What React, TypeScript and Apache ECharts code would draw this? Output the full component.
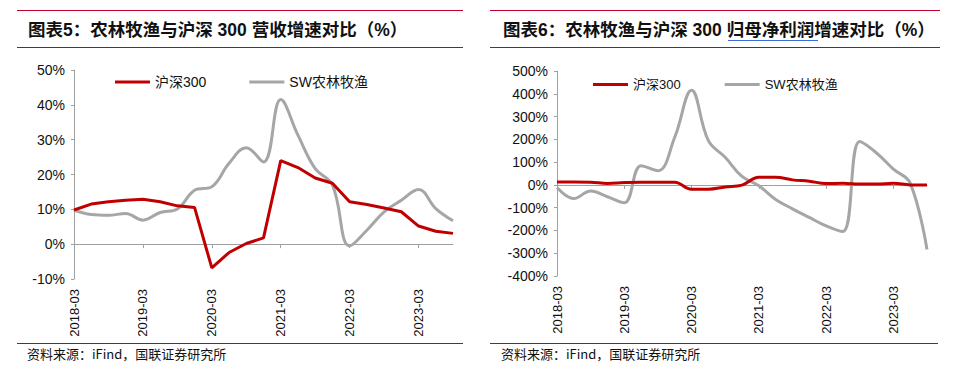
import React, { useEffect, useRef } from "react";
import * as echarts from "echarts";

const quarters: string[] = [
  "2018-03", "2018-06", "2018-09", "2018-12",
  "2019-03", "2019-06", "2019-09", "2019-12",
  "2020-03", "2020-06", "2020-09", "2020-12",
  "2021-03", "2021-06", "2021-09", "2021-12",
  "2022-03", "2022-06", "2022-09", "2022-12",
  "2023-03", "2023-06", "2023-09",
];

const seriesNames: string[] = ["沪深300", "SW农林牧渔"];

// 图表5：营收增速 (%)
const hs300Revenue: number[] = [9.8, 11.5, 12.2, 12.6, 12.9, 12.2, 11.0, 10.5, -6.8, -2.4, 0.2, 1.8, 24.0, 22.0, 19.0, 17.5, 12.2, 11.4, 10.4, 9.3, 5.2, 3.7, 3.1];
const swRevenue: number[] = [9.8, 8.5, 8.3, 8.8, 6.9, 9.1, 10.1, 15.5, 16.5, 23.2, 27.7, 23.6, 41.5, 31.3, 21.7, 17.0, -0.5, 4.0, 9.3, 12.6, 15.7, 10.2, 6.7];

// 图表6：归母净利润增速 (%)
const hs300Profit: number[] = [13, 13, 12, 6, 10, 12, 12, 12, -19, -19, -9, -1, 34, 34, 22, 16, 6, 7, 4, 4, 7, 0, -1];
const swProfit: number[] = [-12, -60, -27, -52, -78, 84, 62, 209, 415, 194, 121, 37, -4, -64, -105, -143, -180, -205, 190, 140, 69, 8, -284];

const leftTitle = "图表5：农林牧渔与沪深 300 营收增速对比（%）";
const rightTitle = "图表6：农林牧渔与沪深 300 归母净利润增速对比（%）";
const sourceText = "资料来源：iFind，国联证券研究所";

const RED = "#c00000";
const GRAY = "#a6a6a6";
const RULE = "#c0002c";
const AXIS = "#a0a0a0";
const FONT = "'Liberation Sans', Arial, 'Noto Sans CJK SC', sans-serif";

export default function App() {
  const ref = useRef<HTMLDivElement>(null);

  useEffect(() => {
    if (!ref.current) return;
    const chart = echarts.init(ref.current, undefined, { renderer: "svg" });

    const xAxisPair = (gridIndex: number, labelSize: number) => [
      {
        type: "category",
        gridIndex,
        data: quarters,
        boundaryGap: false,
        position: "bottom",
        axisLine: { onZero: true, lineStyle: { color: AXIS, width: 1 } },
        axisTick: { show: true, interval: 3, length: 4, lineStyle: { color: AXIS } },
        axisLabel: { show: false },
        splitLine: { show: false },
      },
      {
        type: "category",
        gridIndex,
        data: quarters,
        boundaryGap: false,
        position: "bottom",
        axisLine: { show: false, onZero: false },
        axisTick: { show: false },
        axisLabel: {
          show: true,
          interval: 3,
          rotate: 90,
          margin: 10,
          fontSize: labelSize,
          color: "#111",
          fontFamily: FONT,
        },
        splitLine: { show: false },
      },
    ];

    const yAxisCfg = (gridIndex: number, min: number, max: number, interval: number, size: number) => ({
      type: "value",
      gridIndex,
      min,
      max,
      interval,
      axisLine: { show: true, lineStyle: { color: AXIS, width: 1 } },
      axisTick: { show: true, length: 3, lineStyle: { color: AXIS } },
      axisLabel: {
        formatter: "{value}%",
        fontSize: size,
        color: "#111",
        fontFamily: FONT,
        margin: 9,
      },
      splitLine: { show: false },
    });

    const legendCfg = (left: number, top: number, size: number, gap: number) => ({
      left,
      top,
      orient: "horizontal",
      icon: "rect",
      itemWidth: 35,
      itemHeight: 3,
      itemGap: gap,
      selectedMode: false,
      textStyle: { fontSize: size, color: "#111", fontFamily: FONT },
      data: seriesNames,
    });

    const option: any = {
      animation: false,
      backgroundColor: "#fff",
      grid: [
        { left: 74, top: 70, right: 970 - 453, bottom: 375 - 279, outerBoundsMode: "none", containLabel: false },
        { left: 557, top: 71, right: 970 - 927, bottom: 375 - 276, outerBoundsMode: "none", containLabel: false },
      ],
      xAxis: [...xAxisPair(0, 13), ...xAxisPair(1, 13)],
      yAxis: [yAxisCfg(0, -10, 50, 10, 14), yAxisCfg(1, -400, 500, 100, 14)],
      legend: [legendCfg(110, 70, 14, 43), legendCfg(588, 73, 13, 44)],
      series: [
        {
          name: seriesNames[0],
          type: "line",
          xAxisIndex: 0,
          yAxisIndex: 0,
          data: hs300Revenue,
          symbol: "none",
          smooth: false,
          lineStyle: { color: RED, width: 3 },
          itemStyle: { color: RED },
          z: 3,
        },
        {
          name: seriesNames[1],
          type: "line",
          xAxisIndex: 0,
          yAxisIndex: 0,
          data: swRevenue,
          symbol: "none",
          smooth: 0.4,
          lineStyle: { color: GRAY, width: 3 },
          itemStyle: { color: GRAY },
          z: 2,
        },
        {
          name: seriesNames[0],
          type: "line",
          xAxisIndex: 2,
          yAxisIndex: 1,
          data: hs300Profit,
          symbol: "none",
          smooth: 0.4,
          lineStyle: { color: RED, width: 3 },
          itemStyle: { color: RED },
          z: 3,
        },
        {
          name: seriesNames[1],
          type: "line",
          xAxisIndex: 2,
          yAxisIndex: 1,
          data: swProfit,
          symbol: "none",
          smooth: 0.4,
          lineStyle: { color: GRAY, width: 3 },
          itemStyle: { color: GRAY },
          z: 2,
        },
      ],
      graphic: [
        { type: "line", shape: { x1: 17, y1: 10.5, x2: 463, y2: 10.5 }, style: { stroke: RULE, lineWidth: 1 } },
        { type: "line", shape: { x1: 17, y1: 47.5, x2: 463, y2: 47.5 }, style: { stroke: RULE, lineWidth: 1 } },
        { type: "line", shape: { x1: 17, y1: 343.5, x2: 463, y2: 343.5 }, style: { stroke: RULE, lineWidth: 1 } },
        { type: "line", shape: { x1: 490, y1: 10.5, x2: 940, y2: 10.5 }, style: { stroke: RULE, lineWidth: 1 } },
        { type: "line", shape: { x1: 490, y1: 47.5, x2: 940, y2: 47.5 }, style: { stroke: RULE, lineWidth: 1 } },
        { type: "line", shape: { x1: 490, y1: 343.5, x2: 938, y2: 343.5 }, style: { stroke: RULE, lineWidth: 1 } },
        {
          type: "text",
          x: 28,
          y: 30,
          style: {
            text: leftTitle,
            fontSize: 17.5,
            fontWeight: "bold",
            fontFamily: FONT,
            fill: "#111",
            verticalAlign: "middle",
          },
        },
        {
          type: "text",
          x: 503,
          y: 30,
          style: {
            text: rightTitle,
            fontSize: 17.5,
            fontWeight: "bold",
            fontFamily: FONT,
            fill: "#111",
            verticalAlign: "middle",
          },
        },
        { type: "line", shape: { x1: 728, y1: 40.5, x2: 818, y2: 40.5 }, style: { stroke: "#3a6fd8", lineWidth: 1 } },
        {
          type: "text",
          x: 27,
          y: 353,
          style: {
            text: sourceText,
            fontSize: 13,
            fontFamily: "'Noto Sans CJK SC', sans-serif",
            fill: "#111",
            verticalAlign: "middle",
          },
        },
        {
          type: "text",
          x: 501,
          y: 353,
          style: {
            text: sourceText,
            fontSize: 13,
            fontFamily: "'Noto Sans CJK SC', sans-serif",
            fill: "#111",
            verticalAlign: "middle",
          },
        },
      ],
    };

    chart.setOption(option);
    return () => chart.dispose();
  }, []);

  return (
    <div
      ref={ref}
      style={{ position: "absolute", left: 0, top: 0, width: 970, height: 375, background: "#fff" }}
    />
  );
}
